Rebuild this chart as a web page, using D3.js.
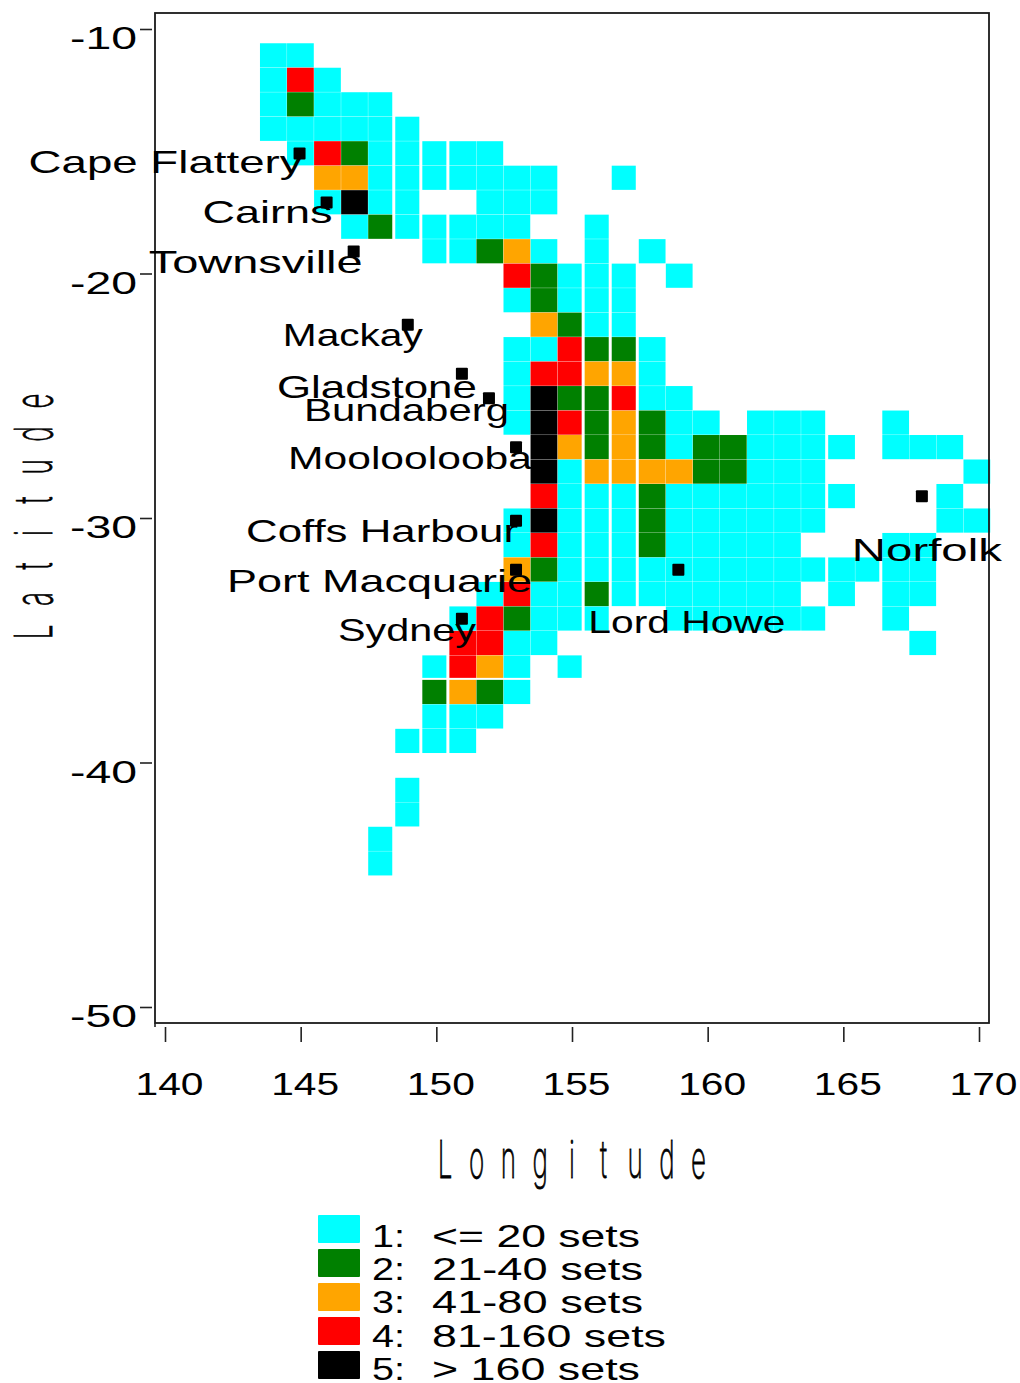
<!DOCTYPE html>
<html>
<head>
<meta charset="utf-8">
<script src="https://cdn.jsdelivr.net/npm/d3@7"></script>
<style>
    body { margin: 0; background: white; }
    svg { display: block; }
    text { font-family: "Liberation Sans", Arial, sans-serif; fill: black; }
</style>
</head>
<body>
<div id="chart"></div>
<script>
// cells per level: [longitude, [latitudes]]
const level1Cells = [
    [144, [-11, -12, -13, -14]],
    [145, [-11, -14, -15]],
    [146, [-12, -13, -14, -17]],
    [147, [-13, -14, -18]],
    [148, [-13, -14, -15, -16, -17, -43, -44]],
    [149, [-14, -15, -16, -17, -18, -39, -41, -42]],
    [150, [-15, -16, -18, -19, -36, -38, -39]],
    [151, [-15, -16, -18, -19, -34, -38, -39]],
    [152, [-15, -16, -17, -18, -33, -38]],
    [153, [-16, -17, -18, -21, -23, -24, -25, -26, -30, -31, -35, -36, -37]],
    [154, [-16, -17, -19, -23, -33, -34, -35]],
    [155, [-20, -21, -28, -29, -30, -31, -32, -33, -34, -36]],
    [156, [-18, -19, -20, -21, -22, -29, -30, -31, -32, -34]],
    [157, [-16, -20, -21, -22, -29, -30, -31, -32, -33]],
    [158, [-19, -23, -24, -25, -32, -33]],
    [159, [-20, -25, -26, -27, -29, -30, -31, -32, -33, -34]],
    [160, [-26, -29, -30, -31, -32, -33, -34]],
    [161, [-29, -30, -31, -32, -33, -34]],
    [162, [-26, -27, -28, -29, -30, -31, -32, -33, -34]],
    [163, [-26, -27, -28, -29, -30, -31, -32, -33, -34]],
    [164, [-26, -27, -28, -29, -30, -32, -34]],
    [165, [-27, -29, -32, -33]],
    [166, [-32]],
    [167, [-26, -27, -31, -32, -33, -34]],
    [168, [-27, -31, -32, -33, -35]],
    [169, [-27, -29, -30]],
    [170, [-28, -30]]
];
const level2Cells = [
    [145, [-13]], [147, [-15]], [148, [-18]], [150, [-37]], [152, [-19, -37]], [153, [-34]],
    [154, [-20, -21, -32]], [155, [-22, -25]], [156, [-23, -25, -26, -27, -33]], [157, [-23]],
    [158, [-26, -27, -29, -30, -31]], [160, [-27, -28]], [161, [-27, -28]]
];
const level3Cells = [
    [146, [-16]], [147, [-16]], [151, [-37]], [152, [-36]], [153, [-19, -32]], [154, [-22]],
    [155, [-27]], [156, [-24, -28]], [157, [-24, -26, -27, -28]], [158, [-28]], [159, [-28]]
];
const level4Cells = [
    [145, [-12]], [146, [-15]], [151, [-35, -36]], [152, [-34, -35]], [153, [-20, -33]],
    [154, [-24, -29, -31]], [155, [-23, -24, -26]], [157, [-25]]
];
const level5Cells = [
    [147, [-17]], [154, [-25, -26, -27, -28, -30]]
];
const levelCells = [level1Cells, level2Cells, level3Cells, level4Cells, level5Cells];

const levelColors = ["#00ffff", "#008000", "#ffa500", "#ff0000", "#000000"];
const legendKeys = ["1:", "2:", "3:", "4:", "5:"];
const legendNames = ["<= 20 sets", "21-40 sets", "41-80 sets", "81-160 sets", "> 160 sets"];

const stationNames = ["Cape Flattery", "Cairns", "Townsville", "Mackay", "Gladstone", "Bundaberg",
    "Mooloolooba", "Coffs Harbour", "Port Macquarie", "Sydney", "Lord Howe", "Norfolk"];
const stationLons = [145, 146, 147, 149, 151, 152, 153, 153, 153, 151, 159, 168];
const stationLats = [-15, -17, -19, -22, -24, -25, -27, -30, -32, -34, -32, -29];

const lonTicks = [140, 145, 150, 155, 160, 165, 170];
const latTicks = [-10, -20, -30, -40, -50];

// label placement relative to the station square: [dx, dy, width]
const labelLayout = [
    [-272, 20, 274], [-125, 21, 130], [-206, 22, 214], [-126, 21, 140],
    [-186, 24, 200], [-186, 23, 205], [-229, 22, 244], [-271, 21, 272],
    [-290, 22, 305], [-125, 22, 138], [-91, 63, 197], [-71, 65, 150]
];

const width = 1020, height = 1383;
const frame = { left: 155, top: 13, right: 989, bottom: 1023 };
const labelSize = 32;

// columns and rows the original raster drew a little short, which leaves white slits
const narrowColumns = [148, 149, 150, 155, 156, 157, 164, 166];
const narrowRows = [-36];

const svg = d3.select("#chart").append("svg")
    .attr("width", width)
    .attr("height", height);

// the axis ticks and the cell grid don't line up exactly in the original
const xAxisScale = d3.scaleLinear().domain([140, 170]).range([165, 979]);
const yAxisScale = d3.scaleLinear().domain([-10, -50]).range([29, 1007]);
const xCell = d3.scaleLinear().domain([144, 170]).range([273.5, 977]);
const yCell = d3.scaleLinear().domain([-11, -44]).range([55.5, 863.5]);
const colorScale = d3.scaleOrdinal().domain(d3.range(5)).range(levelColors);

const stepX = xCell(1) - xCell(0);
const stepY = yCell(0) - yCell(1);

const cells = levelCells.flatMap((rows, level) =>
    rows.flatMap(([lon, lats]) => lats.map(lat => ({ lon, lat, level }))));

svg.append("g").selectAll("rect")
    .data(cells)
    .enter()
    .append("rect")
    .attr("x", d => xCell(d.lon) - stepX / 2)
    .attr("y", d => yCell(d.lat) - stepY / 2)
    .attr("width", d => stepX - (narrowColumns.includes(d.lon) ? 3 : 0.3))
    .attr("height", d => stepY - (narrowRows.includes(d.lat) ? 2 : 0.3))
    .attr("fill", d => colorScale(d.level));

// plot frame
svg.append("rect")
    .attr("x", frame.left)
    .attr("y", frame.top)
    .attr("width", frame.right - frame.left)
    .attr("height", frame.bottom - frame.top)
    .attr("fill", "none")
    .attr("stroke", "#1a1a1a")
    .attr("stroke-width", 1.8);

// x axis
const xAxis = svg.append("g")
    .attr("transform", `translate(0,${frame.bottom + 4})`)
    .call(d3.axisBottom(xAxisScale).tickValues(lonTicks).tickSize(15).tickSizeOuter(0));
xAxis.select(".domain").remove();
xAxis.selectAll("line").attr("stroke", "#222").attr("stroke-width", 1.6);
xAxis.selectAll("text")
    .attr("y", 0).attr("dy", 0)
    .attr("transform", "translate(4,68)")
    .attr("font-size", labelSize)
    .attr("textLength", 68)
    .attr("lengthAdjust", "spacingAndGlyphs")
    .text(d => d);

// y axis
const yAxis = svg.append("g")
    .attr("transform", `translate(${frame.left - 3},0)`)
    .call(d3.axisLeft(yAxisScale).tickValues(latTicks).tickSize(12).tickSizeOuter(0));
yAxis.select(".domain").remove();
yAxis.selectAll("line").attr("stroke", "#222").attr("stroke-width", 1.6);
yAxis.selectAll("text")
    .attr("x", -15).attr("dy", 0)
    .attr("transform", "translate(0,19.5)")
    .attr("font-size", labelSize)
    .attr("textLength", 67)
    .attr("lengthAdjust", "spacingAndGlyphs")
    .text(d => "-" + Math.abs(d));

// small stub where the left axis runs past the frame
svg.append("line")
    .attr("x1", frame.left).attr("x2", frame.left)
    .attr("y1", frame.bottom).attr("y2", frame.bottom + 4)
    .attr("stroke", "#222").attr("stroke-width", 1.6);

// axis titles, letter by letter because the original font is a wide spaced stroke font
function drawTitle(group, title, start, step) {
    group.selectAll("text")
        .data(title.split(""))
        .enter()
        .append("text")
        .attr("transform", (d, i) => `translate(${start + i * step},0) scale(0.5,1)`)
        .attr("text-anchor", "middle")
        .style("font-family", "Inter, sans-serif")
        .style("font-weight", 200)
        .style("stroke", "black")
        .style("stroke-width", 0.9)
        .attr("font-size", 52)
        .text(d => d);
}

drawTitle(svg.append("g").attr("transform", "translate(0,1178)"), "Longitude", 445, 31.7);
drawTitle(svg.append("g").attr("transform", "translate(52,0) rotate(-90)"), "Latitude", -632, 33);

// stations
const stations = stationNames.map((name, i) => ({
    name,
    lon: stationLons[i],
    lat: stationLats[i],
    layout: labelLayout[i]
}));

svg.append("g").selectAll("rect")
    .data(stations)
    .enter()
    .append("rect")
    .attr("x", d => xCell(d.lon) - 7)
    .attr("y", d => yCell(d.lat) - 6)
    .attr("width", 12)
    .attr("height", 12)
    .attr("rx", 1)
    .attr("fill", "black");

svg.append("g").selectAll("text")
    .data(stations)
    .enter()
    .append("text")
    .attr("x", d => xCell(d.lon) + d.layout[0])
    .attr("y", d => yCell(d.lat) + d.layout[1])
    .attr("font-size", labelSize)
    .attr("textLength", d => d.layout[2])
    .attr("lengthAdjust", "spacingAndGlyphs")
    .text(d => d.name);

// legend
const legendWidths = [207, 210, 210, 233, 207];
const legend = svg.append("g").selectAll("g")
    .data(legendNames)
    .enter()
    .append("g");

legend.append("rect")
    .attr("x", 318)
    .attr("y", (d, i) => 1215 + i * 34)
    .attr("width", 42)
    .attr("height", 28)
    .attr("rx", 1)
    .attr("fill", (d, i) => levelColors[i]);

legend.append("text")
    .attr("x", 372)
    .attr("y", (d, i) => 1247 + i * 33.2)
    .attr("font-size", labelSize)
    .attr("textLength", 33)
    .attr("lengthAdjust", "spacingAndGlyphs")
    .text((d, i) => legendKeys[i]);

legend.append("text")
    .attr("x", 432)
    .attr("y", (d, i) => 1247 + i * 33.2)
    .attr("font-size", labelSize)
    .attr("textLength", (d, i) => legendWidths[i] + 1)
    .attr("lengthAdjust", "spacingAndGlyphs")
    .text(d => d);
</script>
</body>
</html>
